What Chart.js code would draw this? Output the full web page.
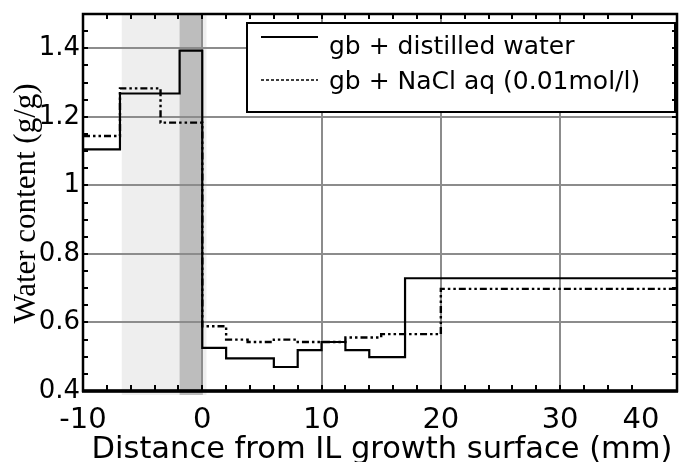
<!DOCTYPE html>
<html><head><meta charset="utf-8">
<script src="https://cdn.jsdelivr.net/npm/chart.js@4/dist/chart.umd.min.js"></script>
<style>html,body{margin:0;padding:0;background:#fff;} #wrap{width:679px;height:462px;position:relative;}</style>
</head><body><div id="wrap"><canvas id="c" width="679" height="462"></canvas></div>
<script>
const seriesNames = ['gb + distilled water', 'gb + NaCl aq (0.01mol/l)'];
const distilledEdges = [-10, -6.9, -1.9, 0, 2, 6, 8, 10, 12, 14, 17, 40];
const distilledValues = [1.105, 1.268, 1.393, 0.526, 0.495, 0.470, 0.519, 0.543, 0.519, 0.499, 0.729, 0.729];
const naclEdges = [-10, -6.9, -3.5, 0, 2, 3.8, 6, 8, 12, 15, 20, 40];
const naclValues = [1.144, 1.283, 1.183, 0.589, 0.550, 0.543, 0.550, 0.543, 0.556, 0.566, 0.698, 0.698];
const xTickValues = [-10, 0, 10, 20, 30, 40];
const xTickLabels = ['-10', '0', '10', '20', '30', '40'];
const yTickValues = [0.4, 0.6, 0.8, 1, 1.2, 1.4];
const yTickLabels = ['0.4', '0.6', '0.8', '1', '1.2', '1.4'];
const shadedStart = [-6.75, -1.9];
const shadedEnd = [0.35, 0.05];
const xAxisTitle = 'Distance from IL growth surface (mm)';
const yAxisTitle = 'Water content (g/g)';

const SANS = '"DejaVu Sans", sans-serif';
const SERIF = '"Liberation Serif", "Times New Roman", serif';
const shadeColors = ['#eeeeee', '#bdbdbd'];
const gridColor = '#8c8c8c';

function isMajorY(v) { return yTickValues.some(t => Math.abs(t - v) < 1e-6); }
function isMajorX(v) { return xTickValues.some(t => Math.abs(t - v) < 1e-6); }

const decor = {
  id: 'decor',
  beforeDraw(chart) {
    const {ctx, chartArea: a, scales: {x}} = chart;
    ctx.save();
    for (let i = 0; i < shadedStart.length; i++) {
      const x0 = x.getPixelForValue(shadedStart[i]);
      const x1 = x.getPixelForValue(shadedEnd[i]);
      ctx.fillStyle = shadeColors[i];
      ctx.fillRect(x0, a.top, x1 - x0, a.bottom - a.top + 4);
    }
    ctx.restore();
  },
  afterDatasetsDraw(chart) {
    const {ctx, chartArea: a, scales: {x, y}} = chart;
    ctx.save();
    // legend box
    const bx = a.right - 430, by = a.top + 9, bw = 428, bh = 89;
    ctx.fillStyle = '#fff';
    ctx.fillRect(bx, by, bw, bh);
    ctx.strokeStyle = '#000';
    ctx.lineWidth = 2;
    ctx.strokeRect(bx, by, bw, bh);
    const ds = chart.data.datasets;
    const rows = [{ly: by + 14, ty: by + 31, dash: [], lw: 2}, {ly: by + 57, ty: by + 66, dash: [3, 2], lw: 1.5}];
    ctx.font = '25px ' + SANS;
    ctx.textAlign = 'left';
    ctx.textBaseline = 'alphabetic';
    ctx.fillStyle = '#000';
    rows.forEach((r, i) => {
      ctx.beginPath();
      ctx.setLineDash(r.dash);
      ctx.lineWidth = r.lw;
      ctx.moveTo(bx + 14, r.ly);
      ctx.lineTo(bx + 71, r.ly);
      ctx.stroke();
      ctx.setLineDash([]);
      ctx.fillText(ds[i].label, bx + 82, r.ty);
    });
    // frame
    ctx.strokeStyle = '#000';
    ctx.lineWidth = 2.5;
    ctx.strokeRect(a.left, a.top, a.right - a.left, a.bottom - a.top);
    ctx.lineWidth = 3.5;
    ctx.beginPath();
    ctx.moveTo(a.left - 1, a.bottom);
    ctx.lineTo(a.right + 1, a.bottom);
    ctx.stroke();
    // inward ticks
    ctx.lineWidth = 2;
    ctx.beginPath();
    x.ticks.forEach(t => {
      if (t.value <= x.min + 1e-6 || t.value >= x.max - 1e-6) return;
      const px = Math.round(x.getPixelForValue(t.value));
      ctx.moveTo(px, a.bottom); ctx.lineTo(px, a.bottom - 6);
      ctx.moveTo(px, a.top); ctx.lineTo(px, a.top + 5);
    });
    y.ticks.forEach(t => {
      if (t.value <= y.min + 1e-6 || t.value >= y.max - 1e-6) return;
      const py = Math.round(y.getPixelForValue(t.value));
      ctx.moveTo(a.left, py); ctx.lineTo(a.left + 5, py);
      ctx.moveTo(a.right, py); ctx.lineTo(a.right - 5, py);
    });
    ctx.stroke();
    // x tick labels
    ctx.font = '29px ' + SANS;
    ctx.textAlign = 'center';
    ctx.fillStyle = '#000';
    xTickValues.forEach((v, i) => {
      let px = x.getPixelForValue(v);
      px = Math.min(px, a.right - 36);
      ctx.fillText(xTickLabels[i], px, a.bottom + 37);
    });
    // x title
    ctx.font = '30.5px ' + SANS;
    ctx.fillText(xAxisTitle, (a.left + a.right) / 2 + 2, a.bottom + 67);
    // y title
    ctx.save();
    ctx.translate(35, (a.top + a.bottom) / 2 + 1);
    ctx.rotate(-Math.PI / 2);
    ctx.font = '31px ' + SERIF;
    ctx.textAlign = 'center';
    ctx.fillText(yAxisTitle, 0, 0);
    ctx.restore();
    ctx.restore();
  }
};

const chart = new Chart(document.getElementById('c'), {
  type: 'line',
  data: {
    datasets: [
      {
        label: seriesNames[0],
        data: distilledEdges.map((e, i) => ({x: e, y: distilledValues[i]})),
        stepped: 'before', borderColor: '#000', borderWidth: 2.2,
        pointRadius: 0, fill: false, borderCapStyle: 'butt', borderJoinStyle: 'miter'
      },
      {
        label: seriesNames[1],
        data: naclEdges.map((e, i) => ({x: e, y: naclValues[i]})),
        stepped: 'before', borderColor: '#000', borderWidth: 2.4,
        borderDash: [7, 3, 2.5, 3, 2.5, 3],
        pointRadius: 0, fill: false, borderCapStyle: 'butt', borderJoinStyle: 'miter'
      }
    ]
  },
  options: {
    responsive: false,
    animation: false,
    devicePixelRatio: 1,
    layout: {padding: {top: 14, right: 2, left: 0, bottom: 0}},
    plugins: {legend: {display: false}, tooltip: {enabled: false}},
    scales: {
      x: {
        type: 'linear', min: -10, max: 39.8,
        ticks: {stepSize: 2, display: false, autoSkip: false},
        grid: {drawTicks: false, lineWidth: 2,
          color: c => (c.tick && isMajorX(c.tick.value)) ? gridColor : 'rgba(0,0,0,0)'},
        border: {display: false},
        afterFit: s => { s.height = 71; s.paddingLeft = 0; s.paddingRight = 0; }
      },
      y: {
        type: 'linear', min: 0.4, max: 1.5,
        ticks: {stepSize: 0.05, autoSkip: false, padding: 3, color: '#000',
          font: {family: SANS, size: 26},
          callback: v => { const i = yTickValues.findIndex(t => Math.abs(t - v) < 1e-6); return i >= 0 ? yTickLabels[i] : ''; }},
        grid: {drawTicks: false, lineWidth: 2,
          color: c => (c.tick && isMajorY(c.tick.value)) ? gridColor : 'rgba(0,0,0,0)'},
        border: {display: false},
        afterFit: s => { s.width = 83; s.paddingTop = 0; s.paddingBottom = 0; }
      }
    }
  },
  plugins: [decor]
});
</script>
</body></html>
